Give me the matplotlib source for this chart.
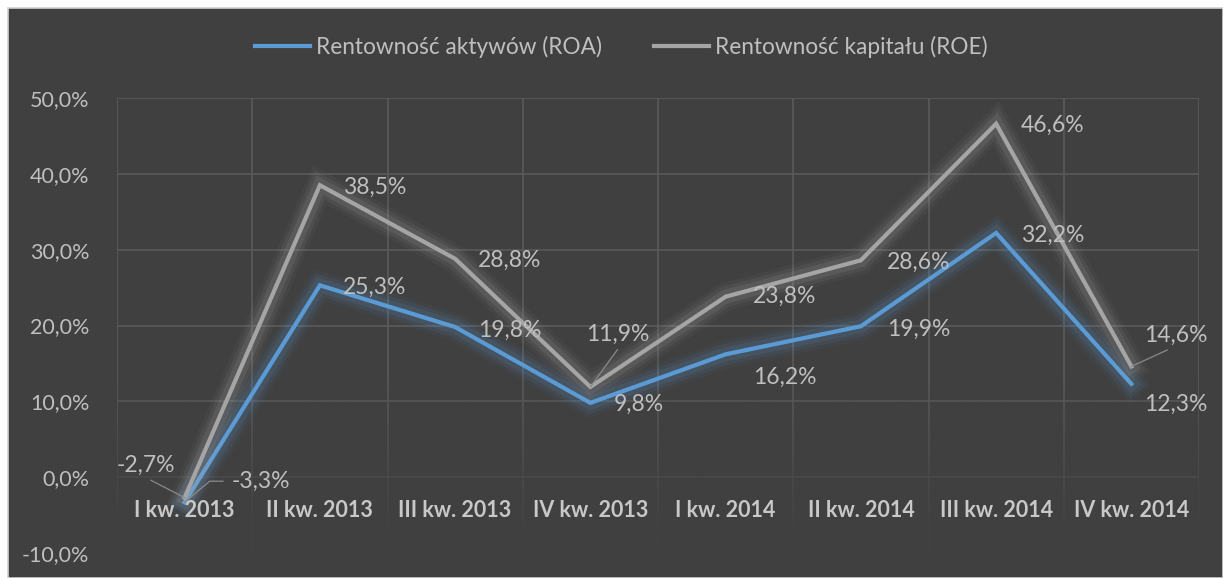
import numpy as np
import matplotlib.pyplot as plt
import matplotlib.patheffects as pe
from matplotlib.patches import Rectangle
from matplotlib.lines import Line2D

quarters = ['I kw. 2013', 'II kw. 2013', 'III kw. 2013', 'IV kw. 2013',
            'I kw. 2014', 'II kw. 2014', 'III kw. 2014', 'IV kw. 2014']
roa = [-3.3, 25.3, 19.8, 9.8, 16.2, 19.9, 32.2, 12.3]
roe = [-2.7, 38.5, 28.8, 11.9, 23.8, 28.6, 46.6, 14.6]
yticks = [-10, 0, 10, 20, 30, 40, 50]

bg = '#404040'
blue = '#5b9bd5'
grey = '#a5a5a5'
txt = '#bfbfbf'

plt.rcParams['font.family'] = ['Lato', 'DejaVu Sans']

fig = plt.figure(figsize=(12.23, 5.78), dpi=100, facecolor='white')
fig.patches.append(Rectangle((8 / 1223, 0), 1 - 8 / 1223, 1 - 8 / 578,
                             transform=fig.transFigure, facecolor=bg,
                             edgecolor='#d0d0d0', linewidth=1.2, zorder=-10))

ax = fig.add_axes([117 / 1223, 1 - 553 / 578, (1199 - 117) / 1223, (553 - 98) / 578])
ax.set_facecolor(bg)

# grid
ax.set_yticks(yticks)
ax.set_yticklabels([f'{v:.1f}%'.replace('.', ',') for v in yticks], color=txt, fontsize=15.5)
ax.set_xticks(np.arange(-0.5, 8, 1), minor=True)
ax.set_xticks([])
ax.grid(True, which='major', axis='y', color='#5a5a5a', lw=1.2)
ax.grid(True, which='minor', axis='x', color='#5a5a5a', lw=1.2)
ax.set_axisbelow(True)
ax.tick_params(axis='y', length=0, pad=20)
ax.tick_params(axis='x', which='both', length=0, labelbottom=False)
for s in ax.spines.values():
    s.set_visible(False)

# fade lower part of plot area
grad = np.linspace(1, 0, 200)
rgba = np.zeros((200, 1, 4))
rgba[..., :3] = np.array([0x40, 0x40, 0x40]) / 255
rgba[:, 0, 3] = np.clip(grad * 1.1, 0, 0.95)
ax.imshow(rgba, extent=(-0.5, 7.5, -10, 13), aspect='auto', origin='lower', zorder=1)
ax.set_xlim(-0.5, 7.5)
ax.set_ylim(-10, 50)

x = np.arange(8)

# category labels just under the 0 line
for i, q in enumerate(quarters):
    ax.annotate(q, (i, 0), xytext=(0, -33), textcoords='offset pixels',
                ha='center', va='center', color='#c8c8c8', fontsize=15.5,
                fontweight='bold', zorder=6)


def glow(c):
    return [pe.Stroke(linewidth=20, foreground=c, alpha=0.05),
            pe.Stroke(linewidth=15, foreground=c, alpha=0.08),
            pe.Stroke(linewidth=10, foreground=c, alpha=0.13),
            pe.Normal()]


ax.plot(x, roa, color=blue, lw=3, solid_joinstyle='miter', zorder=3, path_effects=glow(blue))
ax.plot(x, roe, color=grey, lw=3, solid_joinstyle='miter', zorder=4, path_effects=glow('#b0b0b0'))

# data labels (offset in pixels from point to label left/middle)
roe_off = [(-68, 32), (23, -2), (23, -2), (-4, 53), (27, 0), (26, -2), (25, -2), (13, 31)]
roa_off = [(47, 21), (23, -2), (23, -3), (23, -1), (27, -23), (26, -3), (25, -2), (13, -20)]
lead = dict(arrowstyle='-', color='#8a8a8a', lw=0.9, shrinkA=2, shrinkB=0)

for i in range(8):
    for name, vals, off in (('roe', roe, roe_off), ('roa', roa, roa_off)):
        lbl = f'{vals[i]:.1f}%'.replace('.', ',')
        ap = None
        if name == 'roe' and i in (0, 3, 7):
            ap = dict(lead, relpos={0: (0.45, 0), 3: (0.55, 0), 7: (0.5, 0)}[i])
        if name == 'roa' and i == 0:
            ap = dict(lead, relpos=(0, 0.5), connectionstyle='angle,angleA=0,angleB=40,rad=0',
                      shrinkA=4)
        ax.annotate(lbl, (i, vals[i]), xytext=off[i], textcoords='offset pixels',
                    ha='left', va='center', color=txt, fontsize=16.5, zorder=5,
                    arrowprops=ap)

handles = [Line2D([], [], color=blue, lw=3), Line2D([], [], color=grey, lw=3)]
fig.legend(handles, ['Rentowność aktywów (ROA)', 'Rentowność kapitału (ROE)'],
           loc='center', bbox_to_anchor=(0.5078, 1 - 47 / 578), ncol=2, frameon=False,
           fontsize=16.3, labelcolor=txt, handlelength=2.43, handletextpad=0.27,
           columnspacing=2.3)

fig.savefig('out.png', dpi=100, facecolor=fig.get_facecolor())
